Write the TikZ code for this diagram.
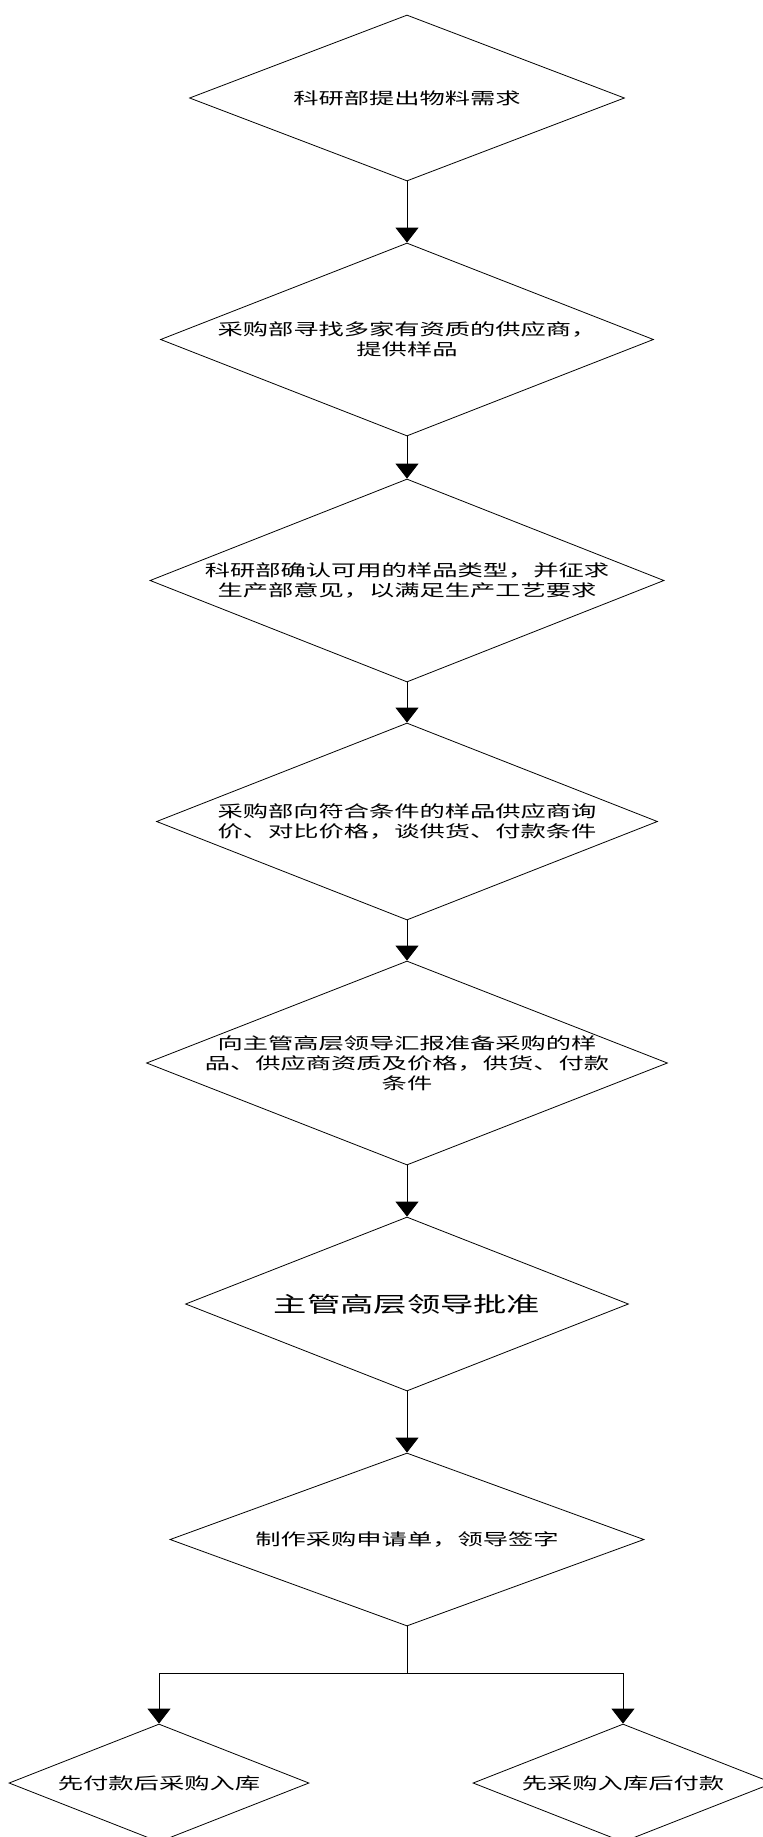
\documentclass[tikz,border=0pt]{standalone}
\usepackage{fontspec}
\usetikzlibrary{shapes.geometric,arrows.meta}
\newfontfamily\cjk[FakeStretch=1.55]{Noto Sans CJK SC}

\tikzset{
  dia/.style={draw=black, line width=0.8pt, shape=diamond, inner sep=0pt, aspect=1},
  txt/.style={align=center, inner sep=0pt, font=\cjk\fontsize{16.3}{20}\selectfont},
  bigtxt/.style={align=center, inner sep=0pt, font=\cjk\fontsize{21.5}{27}\selectfont},
  arr/.style={draw=black, line width=0.8pt, -{Triangle[width=23pt,length=15pt]}},
  link/.style={draw=black, line width=0.8pt}
}

\begin{document}
\begin{tikzpicture}[x=1pt, y=-1pt]
  \useasboundingbox (0,0) rectangle (763,1837);

  % process steps
  \node[dia, minimum width=435pt, minimum height=166pt] (d1) at (407,98) {};
  \node[dia, minimum width=493pt, minimum height=193pt] (d2) at (407,339.5) {};
  \node[dia, minimum width=514pt, minimum height=203pt] (d3) at (407,580.5) {};
  \node[dia, minimum width=501pt, minimum height=197pt] (d4) at (407,821.5) {};
  \node[dia, minimum width=521pt, minimum height=204pt] (d5) at (407,1063) {};
  \node[dia, minimum width=443pt, minimum height=174pt] (d6) at (407,1304) {};
  \node[dia, minimum width=474pt, minimum height=173pt] (d7) at (407,1539.5) {};
  \node[dia, minimum width=300pt, minimum height=118pt] (d8) at (159,1783) {};
  \node[dia, minimum width=300pt, minimum height=118pt] (d9) at (623,1783) {};

  % step texts
  \node[txt] (t1) at (d1.center) {科研部提出物料需求};
  \node[txt] (t2) at (d2.center) {采购部寻找多家有资质的供应商，\\提供样品};
  \node[txt] (t3) at (d3.center) {科研部确认可用的样品类型，并征求\\生产部意见，以满足生产工艺要求};
  \node[txt] (t4) at (d4.center) {采购部向符合条件的样品供应商询\\价、对比价格，谈供货、付款条件};
  \node[txt] (t5) at (d5.center) {向主管高层领导汇报准备采购的样\\品、供应商资质及价格，供货、付款\\条件};
  \node[bigtxt] (t6) at (d6.center) {主管高层领导批准};
  \node[txt] (t7) at (d7.center) {制作采购申请单，领导签字};
  \node[txt] (t8) at (d8.center) {先付款后采购入库};
  \node[txt] (t9) at (d9.center) {先采购入库后付款};

  % connectors
  \draw[arr] (d1) -- (d2);
  \draw[arr] (d2) -- (d3);
  \draw[arr] (d3) -- (d4);
  \draw[arr] (d4) -- (d5);
  \draw[arr] (d5) -- (d6);
  \draw[arr] (d6) -- (d7);

  \coordinate (j) at (407,1673);
  \draw[link] (d7.south) -- (j);
  \draw[arr] (j) -| (d8.north);
  \draw[arr] (j) -| (d9.north);
\end{tikzpicture}
\end{document}
